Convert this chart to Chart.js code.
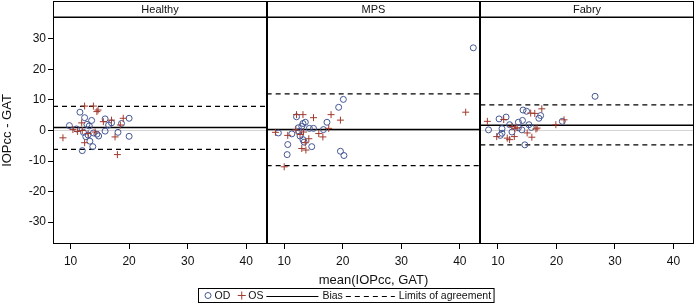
<!DOCTYPE html>
<html>
<head>
<meta charset="utf-8">
<script src="https://cdn.jsdelivr.net/npm/chart.js"></script>
<style>
  body { margin: 0; background: #fff; }
  canvas { display: block; }
</style>
</head>
<body>
<canvas id="ba" width="695" height="305"></canvas>
<script>
// panels and axis ticks
const panels = ['Healthy', 'MPS', 'Fabry'];
const xTicks = [10, 20, 30, 40];
const yTicks = [-30, -20, -10, 0, 10, 20, 30];
const xRange = [7, 43.5];
const yRange = [-37.2, 37.2];

// bias and limits of agreement per panel
const bias = [1.0, 0.3, 1.7];
const loaUpper = [7.9, 12.0, 8.4];
const loaLower = [-6.2, -11.5, -4.7];
const zeroRef = 0;

// [mean, difference] pairs
const healthyOD = [[9.8,1.6],[11.6,6.0],[12.4,4.2],[13.6,3.3],[12.8,2.0],[15.9,3.8],[18.7,2.3],[20.0,4.0],
  [12.2,-0.6],[13.0,-1.5],[13.9,-0.8],[14.5,-1.2],[15.9,-0.2],[18.1,-0.6],[20.0,-1.9],[13.3,-3.5],
  [13.8,-5.3],[12.0,-6.6],[11.0,0.5],[14.8,-1.8],[16.5,1.8],[13.2,1.5],[12.6,-2.0],[17.0,2.5]];
const healthyOS = [[8.7,-2.4],[10.4,0.3],[11.2,-0.3],[11.9,2.5],[12.4,8.0],[13.9,8.0],[14.7,6.7],[14.5,6.2],
  [15.6,2.9],[17.0,3.4],[19.0,4.0],[18.5,1.8],[17.6,-2.1],[12.4,-4.0],[18.0,-7.9],[13.0,-1.0],[14.2,-0.5],[12.0,0.0]];

const mpsOD = [[42.3,27.1],[20.1,10.2],[19.3,7.6],[17.3,2.7],[12.1,4.5],[13.6,2.7],[13.2,2.3],[13.0,1.4],
  [12.4,0.9],[14.3,0.7],[15.0,0.7],[16.7,0.3],[9.0,-0.8],[11.3,-1.1],[12.7,-1.8],[10.6,-4.6],[13.2,-3.0],
  [13.4,-3.8],[14.7,-5.3],[10.5,-7.9],[19.6,-6.8],[20.2,-8.2],[12.5,-0.3]];
const mpsOS = [[41.0,6.0],[19.6,3.4],[18.0,5.2],[15.0,4.2],[12.1,5.2],[13.2,5.2],[17.6,0.7],[8.5,-0.6],
  [10.6,-1.6],[12.7,-1.3],[12.0,0.2],[15.9,-1.0],[16.6,-2.1],[14.2,-2.7],[13.6,-4.0],[13.0,-5.9],[13.7,-6.4],
  [10.0,-11.9],[13.3,-0.5]];

const fabryOD = [[26.6,11.2],[21.0,3.0],[17.3,4.9],[17.0,4.0],[14.3,6.7],[14.9,6.3],[13.5,2.7],[14.2,3.3],
  [12.0,1.9],[11.4,4.4],[10.2,3.8],[8.4,0.2],[10.7,0.6],[10.7,-0.9],[10.4,-1.6],[15.3,1.9],[15.7,1.0],
  [14.1,0.2],[14.6,-4.7],[12.4,-0.5],[13.5,0.9]];
const fabryOS = [[8.2,3.0],[9.8,-2.0],[11.0,3.6],[11.6,-2.5],[12.8,-2.0],[12.4,1.3],[12.9,0.7],[13.3,0.9],
  [15.0,-0.8],[15.8,-2.2],[15.6,5.7],[16.3,5.6],[17.5,7.1],[16.7,0.8],[16.5,0.5],[19.9,1.9],[21.3,3.5],[12.0,-3.0]];

const odData = [healthyOD, mpsOD, fabryOD];
const osData = [healthyOS, mpsOS, fabryOS];
const legendLabels = ['OD', 'OS', 'Bias', 'Limits of agreement'];

const FONT = '"Liberation Sans", Arial, sans-serif';
const odColor = '#445694';
const osColor = '#A23A2E';

const toPts = arr => arr.map(p => ({ x: p[0], y: p[1] }));
const hline = v => [{ x: xRange[0], y: v }, { x: xRange[1], y: v }];

const datasets = [];
panels.forEach((name, i) => {
  const xid = 'x' + i;
  datasets.push({ label: 'zero', data: hline(zeroRef), xAxisID: xid, showLine: true, pointRadius: 0,
    borderColor: '#d4d4d4', borderWidth: 1, order: 9 });
  datasets.push({ label: legendLabels[0], data: toPts(odData[i]), xAxisID: xid, pointStyle: 'circle',
    pointRadius: 3, borderColor: odColor, backgroundColor: 'rgba(0,0,0,0)', borderWidth: 1, order: 2 });
  datasets.push({ label: legendLabels[1], data: toPts(osData[i]), xAxisID: xid, pointStyle: 'cross',
    pointRadius: 3.5, borderColor: osColor, borderWidth: 1, order: 1 });
  datasets.push({ label: legendLabels[2], data: hline(bias[i]), xAxisID: xid, showLine: true, pointRadius: 0,
    borderColor: '#000', borderWidth: 1.5, order: 3 });
  datasets.push({ label: legendLabels[3], data: hline(loaUpper[i]), xAxisID: xid, showLine: true, pointRadius: 0,
    borderColor: '#000', borderWidth: 1.2, borderDash: [5, 4], order: 3 });
  datasets.push({ label: legendLabels[3], data: hline(loaLower[i]), xAxisID: xid, showLine: true, pointRadius: 0,
    borderColor: '#000', borderWidth: 1.2, borderDash: [5, 4], order: 3 });
});

const scales = {
  y: {
    min: yRange[0], max: yRange[1],
    afterBuildTicks: s => { s.ticks = yTicks.map(v => ({ value: v })); },
    afterFit: s => { s.width = 53; s.paddingTop = 0; s.paddingBottom = 0; },
    grid: { drawOnChartArea: false, tickLength: 5, color: '#000' },
    border: { display: false },
    ticks: { padding: 2, color: '#111', font: { family: FONT, size: 12 } },
    title: { display: true, text: 'IOPcc - GAT', color: '#111', padding: 0, font: { family: FONT, size: 13 } }
  }
};
panels.forEach((name, i) => {
  scales['x' + i] = {
    type: 'linear', axis: 'x', position: 'bottom', stack: 'panels', stackWeight: 1,
    min: xRange[0], max: xRange[1],
    afterBuildTicks: s => { s.ticks = xTicks.map(v => ({ value: v })); },
    afterFit: s => { s.height = 44; s.paddingLeft = 0; s.paddingRight = 0; },
    grid: { drawOnChartArea: false, tickLength: 5, color: '#000' },
    border: { display: false },
    ticks: { padding: 5, color: '#111', font: { family: FONT, size: 12 } },
    title: { display: i === 1, text: 'mean(IOPcc, GAT)', color: '#111', padding: 0, font: { family: FONT, size: 13 } }
  };
});

// panel frames, header strips and the boxed legend
const framePlugin = {
  id: 'frame',
  afterDraw(chart) {
    const ctx = chart.ctx;
    const { top, bottom } = chart.chartArea;
    ctx.save();
    ctx.strokeStyle = '#000';
    ctx.lineWidth = 1;
    ctx.fillStyle = '#111';
    ctx.font = '11px ' + FONT;
    ctx.textAlign = 'center';
    ctx.textBaseline = 'middle';
    panels.forEach((name, i) => {
      const s = chart.scales['x' + i];
      const l = Math.round(s.left) + 0.5, r = Math.round(s.right) - 0.5;
      ctx.strokeRect(l, 1.5, r - l, Math.round(top) - 1.5);
      ctx.strokeRect(l, Math.round(top) + 0.5, r - l, Math.round(bottom) - Math.round(top) - 1);
      ctx.fillText(name, (l + r) / 2, (1.5 + top) / 2 + 0.5);
    });

    // legend
    ctx.textAlign = 'left';
    ctx.font = '10.5px ' + FONT;
    const symW = [9, 9, 52, 49];
    const gapSym = [2, 2, 4, 4];
    const gapText = [7, 3, 3, 0];
    const padL = 5, padR = 3;
    let total = padL + padR;
    legendLabels.forEach((t, k) => {
      total += symW[k] + gapSym[k] + ctx.measureText(t).width + gapText[k];
    });
    const bx = Math.round(chart.width / 2 - total / 2 - 2) + 0.5;
    const by = 288.5, bh = 14;
    ctx.strokeRect(bx, by, total, bh);
    const cy = by + bh / 2;
    let x = bx + padL;
    legendLabels.forEach((t, k) => {
      ctx.beginPath();
      const c = x + symW[k] / 2;
      if (k === 0) {
        ctx.strokeStyle = odColor;
        ctx.arc(c, cy, 3, 0, Math.PI * 2);
        ctx.stroke();
      } else if (k === 1) {
        ctx.strokeStyle = osColor;
        ctx.moveTo(c - 4, cy); ctx.lineTo(c + 4, cy);
        ctx.moveTo(c, cy - 4); ctx.lineTo(c, cy + 4);
        ctx.stroke();
      } else {
        ctx.strokeStyle = '#000';
        ctx.lineWidth = 1.2;
        ctx.setLineDash(k === 3 ? [5, 4] : []);
        ctx.moveTo(x, Math.round(cy) + 0.5); ctx.lineTo(x + symW[k], Math.round(cy) + 0.5);
        ctx.stroke();
        ctx.setLineDash([]);
        ctx.lineWidth = 1;
      }
      x += symW[k] + gapSym[k];
      ctx.fillStyle = '#111';
      ctx.fillText(t, x, cy + 0.5);
      x += ctx.measureText(t).width + gapText[k];
    });
    ctx.restore();
  }
};

new Chart(document.getElementById('ba'), {
  type: 'scatter',
  data: { datasets },
  options: {
    responsive: false,
    animation: false,
    devicePixelRatio: 1,
    layout: { autoPadding: false, padding: { top: 17, right: 1, bottom: 17, left: 0 } },
    plugins: { legend: { display: false }, tooltip: { enabled: false } },
    scales
  },
  plugins: [framePlugin]
});
</script>
</body>
</html>
